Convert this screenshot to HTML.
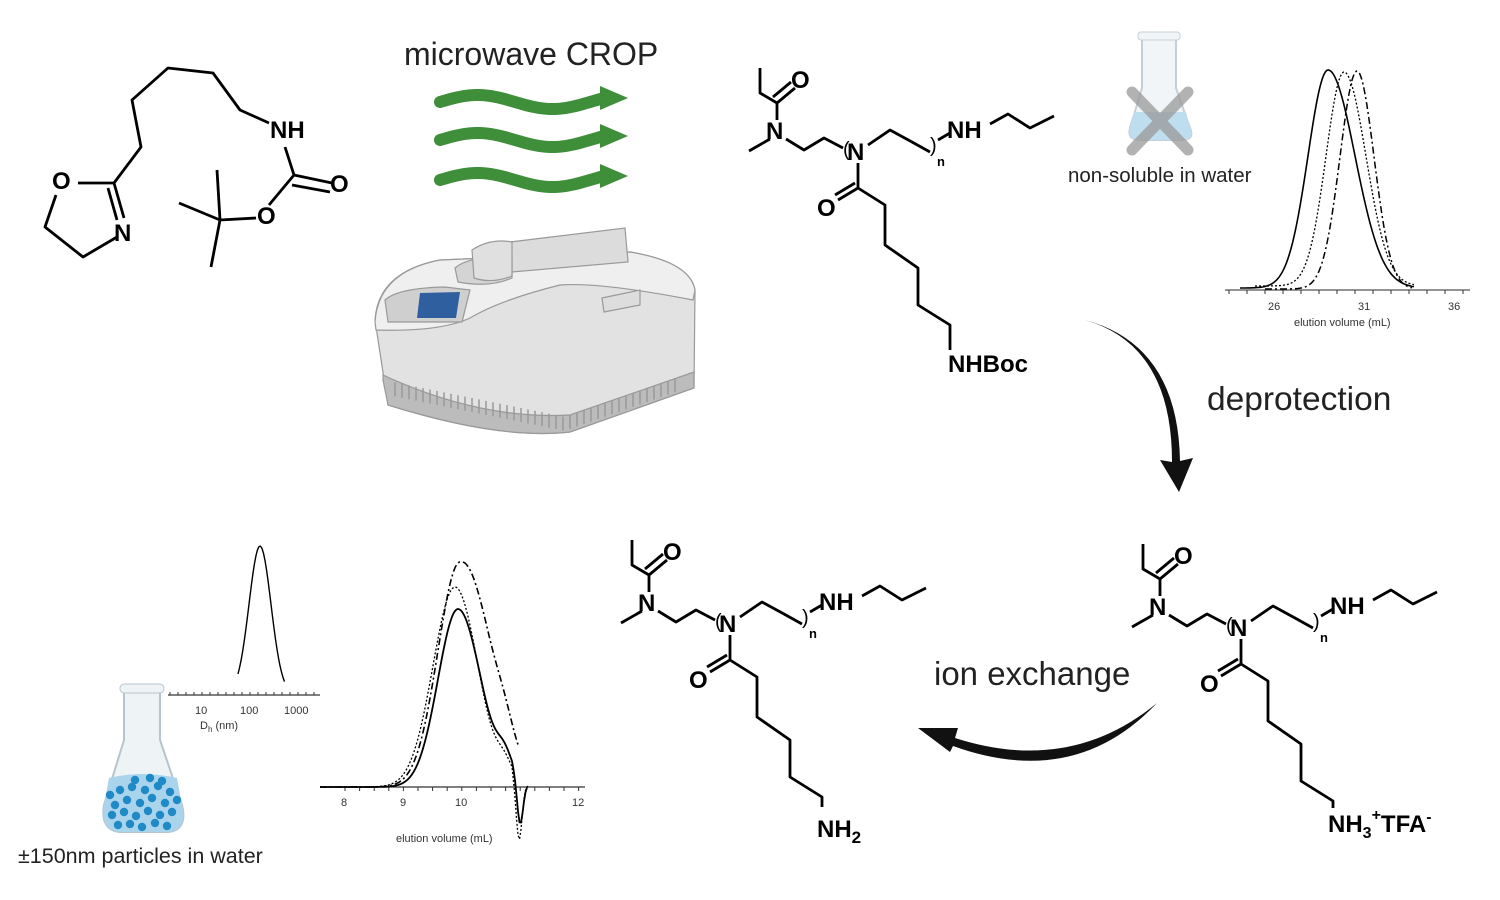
<!DOCTYPE html>
<html><head><meta charset="utf-8"><style>
html,body{margin:0;padding:0;background:#fff}
svg{display:block}
text{font-family:"Liberation Sans",sans-serif}
.b{font-weight:bold;font-size:24px;fill:#000}
.l{stroke:#000;stroke-width:2.8;fill:none;stroke-linejoin:round}
.t{font-size:11px;fill:#333}
</style></head><body>
<svg id="s" width="1500" height="900" viewBox="0 0 1500 900">
<!-- monomer -->
<g class="l">
<path d="M56,195 L45,227 L83,257 L117,237"/>
<path d="M78,183 L114,183 L124,218 M108,188 L117,220"/>
<path d="M114,183 L141,147 L132,100 L168,68 L213,73 L240,110 L269,123"/>
<path d="M285,147 L294,175 L269,205 M294,175 L332,183 M292,185 L330,192"/>
<path d="M256,218 L220,220 L217,170 M220,220 L211,267 M220,220 L179,203"/>
</g>
<text class="b" x="52" y="189" font-weight="normal">O</text>
<text class="b" x="114" y="241">N</text>
<text class="b" x="270" y="138">NH</text>
<text class="b" x="330" y="192">O</text>
<text class="b" x="257" y="224">O</text>

<text x="404" y="65" font-size="32" fill="#222">microwave CROP</text>
<g id="waves" stroke="#3e8e3a" stroke-width="12" fill="none" stroke-linecap="round"></g>
<g fill="#3e8e3a">
<polygon points="600,86 628,98 600,110"/>
<polygon points="600,124 628,136 600,148"/>
<polygon points="600,164 628,176 600,188"/>
</g>
<!-- microwave device -->
<g stroke="#999" stroke-width="1.2">
<path d="M375,320 Q378,272 440,260 L630,252 Q690,262 695,290 L694,388 L570,432 Q500,440 388,405 Z" fill="#e2e2e2"/>
<path d="M375,322 Q378,272 440,260 L630,252 Q690,262 695,290 L693,300 Q600,282 560,285 Q500,300 470,318 Q440,332 376,330 Z" fill="#efefef"/>
<path d="M383,380 L388,405 Q500,440 570,432 L694,388 L694,372 L570,415 Q480,420 383,375 Z" fill="#bcbcbc"/>
<path d="M510,242 L625,228 L628,262 L512,272 Z" fill="#dcdcdc"/>
<path d="M455,268 Q470,255 512,258 L512,278 Q490,288 458,282 Z" fill="#d4d4d4"/>
<path d="M472,250 Q490,238 512,242 L512,276 Q492,284 474,278 Z" fill="#e0e0e0"/>
<path d="M385,300 Q398,288 445,287 L470,290 L462,322 L388,322 Z" fill="#cfcfcf"/>
<path d="M420,293 L460,292 L456,318 L417,318 Z" fill="#2f5f9f" stroke="none"/>
<path d="M602,298 L640,290 L640,305 L604,312 Z" fill="#ddd"/>
</g>
<g stroke="#999" stroke-width="1.5" id="grill"></g>

<!-- top polymer -->
<g class="l">
<path d="M760,68 L760,93 L777,103 L795,88 M773,97 L791,82"/>
<path d="M777,103 L777,120 M770,139 L749,151 M786,139 L804,150 L824,138 L843,148"/>
<path d="M858,163 L858,188 L838,200 M855,183 L835,195"/>
<path d="M868,145 L890,130 L912,142 L930,152"/>
<path d="M938,140 L950,133 M990,124 L1008,114 L1030,128 L1054,116"/>
<path d="M858,188 L885,205 L885,245 L918,268 L918,305 L950,325 L950,350"/>
</g>
<text x="843" y="156" font-size="20">(</text><text x="930" y="152" font-size="20">)</text>
<text class="b" x="766" y="139">N</text><text class="b" x="791" y="88">O</text>
<text class="b" x="847" y="160">N</text><text class="b" x="947" y="138">NH</text>
<text x="937" y="166" font-size="13" font-weight="bold">n</text>
<text class="b" x="817" y="216">O</text><text class="b" x="948" y="372">NHBoc</text>

<!-- flask top -->
<g opacity="0.8">
<path d="M1142,38 L1142,88 L1130,128 Q1127,140 1140,140 L1182,140 Q1195,140 1190,128 L1176,88 L1176,38 Z" fill="#eef3f6" stroke="#b8c4cc" stroke-width="2"/>
<path d="M1134,112 L1186,112 L1190,128 Q1195,140 1182,140 L1140,140 Q1127,140 1130,128 Z" fill="#aed6ec"/>
<rect x="1138" y="32" width="42" height="8" rx="3" fill="#eef3f6" stroke="#b8c4cc"/>
</g>
<path d="M1132,92 L1188,150 M1188,92 L1132,150" stroke="#999" stroke-width="11" stroke-linecap="round" opacity="0.75"/>
<text x="1068" y="182" font-size="20.5" fill="#222">non-soluble in water</text>

<!-- top chromatogram -->
<line x1="1225" y1="290" x2="1470" y2="290" stroke="#555" stroke-width="1.2"/>
<g id="tt"></g>
<text class="t" x="1268" y="310">26</text><text class="t" x="1358" y="310">31</text><text class="t" x="1448" y="310">36</text>
<text class="t" x="1294" y="326">elution volume (mL)</text>
<path id="c1" fill="none" stroke="#000" stroke-width="1.6"/>
<path id="c2" fill="none" stroke="#000" stroke-width="1.3" stroke-dasharray="2,2"/>
<path id="c3" fill="none" stroke="#000" stroke-width="1.5" stroke-dasharray="7,3,2,3"/>

<!-- deprotection arrow -->
<path d="M1085,320 Q1172,345 1172,462 L1160,460 L1179,492 L1193,458 L1180,461 Q1178,345 1085,320 Z" fill="#111"/>
<text x="1207" y="410" font-size="33.5" fill="#222">deprotection</text>

<!-- bottom right polymer -->
<g transform="translate(383,476)">
<g class="l">
<path d="M760,68 L760,93 L777,103 L795,88 M773,97 L791,82"/>
<path d="M777,103 L777,120 M770,139 L749,151 M786,139 L804,150 L824,138 L843,148"/>
<path d="M858,163 L858,188 L838,200 M855,183 L835,195"/>
<path d="M868,145 L890,130 L912,142 L930,152"/>
<path d="M938,140 L950,133 M990,124 L1008,114 L1030,128 L1054,116"/>
<path d="M858,188 L885,205 L885,245 L918,268 L918,305 L950,325 L950,332"/>
</g>
<text x="843" y="156" font-size="20">(</text><text x="930" y="152" font-size="20">)</text>
<text class="b" x="766" y="139">N</text><text class="b" x="791" y="88">O</text>
<text class="b" x="847" y="160">N</text><text class="b" x="947" y="138">NH</text>
<text x="937" y="166" font-size="13" font-weight="bold">n</text>
<text class="b" x="817" y="216">O</text>
<text class="b" x="945" y="356">NH<tspan font-size="16" dy="6">3</tspan><tspan font-size="16" dy="-18">+</tspan><tspan dy="12">TFA</tspan><tspan font-size="16" dy="-10">-</tspan></text>
</g>

<!-- ion exchange arrow -->
<path d="M1157,703 Q1070,775 955,738 L958,728 L918,728 L950,752 L953,746 Q1075,790 1157,703 Z" fill="#111"/>
<text x="934" y="685" font-size="33" fill="#222">ion exchange</text>

<!-- bottom middle polymer -->
<g transform="translate(-128,472)">
<g class="l">
<path d="M760,68 L760,93 L777,103 L795,88 M773,97 L791,82"/>
<path d="M777,103 L777,120 M770,139 L749,151 M786,139 L804,150 L824,138 L843,148"/>
<path d="M858,163 L858,188 L838,200 M855,183 L835,195"/>
<path d="M868,145 L890,130 L912,142 L930,152"/>
<path d="M938,140 L950,133 M990,124 L1008,114 L1030,128 L1054,116"/>
<path d="M858,188 L885,205 L885,245 L918,268 L918,305 L950,325 L950,335"/>
</g>
<text x="843" y="156" font-size="20">(</text><text x="930" y="152" font-size="20">)</text>
<text class="b" x="766" y="139">N</text><text class="b" x="791" y="88">O</text>
<text class="b" x="847" y="160">N</text><text class="b" x="947" y="138">NH</text>
<text x="937" y="166" font-size="13" font-weight="bold">n</text>
<text class="b" x="817" y="216">O</text>
<text class="b" x="945" y="365">NH<tspan font-size="17" dy="6">2</tspan></text>
</g>

<!-- DLS -->
<line x1="168" y1="695" x2="320" y2="695" stroke="#333" stroke-width="1.2"/>
<g id="dt"></g>
<path id="dls" fill="none" stroke="#000" stroke-width="1.4"/>
<text class="t" x="195" y="714">10</text><text class="t" x="240" y="714">100</text><text class="t" x="284" y="714">1000</text>
<text class="t" x="200" y="729" font-size="12">D<tspan font-size="8" dy="3">h</tspan><tspan dy="-3"> (nm)</tspan></text>

<!-- bottom chromatogram -->
<line x1="320" y1="787" x2="585" y2="787" stroke="#333" stroke-width="1.2"/>
<g id="bt"></g>
<text class="t" x="341" y="806">8</text><text class="t" x="400" y="806">9</text><text class="t" x="455" y="806">10</text><text class="t" x="572" y="806">12</text>
<text class="t" x="396" y="842">elution volume (mL)</text>
<path id="e1" fill="none" stroke="#000" stroke-width="1.8"/>
<path id="e2" fill="none" stroke="#000" stroke-width="1.3" stroke-dasharray="2,2"/>
<path id="e3" fill="none" stroke="#000" stroke-width="1.6" stroke-dasharray="7,3,2,3"/>

<!-- bottom flask -->
<path d="M124,690 L124,740 L104,805 Q100,830 120,832 L168,832 Q188,830 182,805 L160,740 L160,690 Z" fill="#eef3f6" stroke="#b8c4cc" stroke-width="2"/>
<rect x="120" y="684" width="44" height="9" rx="4" fill="#eef3f6" stroke="#b8c4cc"/>
<path d="M109,778 Q142,770 177,778 L182,805 Q188,830 168,832 L120,832 Q100,830 104,805 Z" fill="#a9d4ec"/>
<g id="dots" fill="#1f8ac6"></g>
<text x="18" y="863" font-size="21.5" fill="#222">±150nm particles in water</text>
</svg>
<script>
function g(x,m,s){return Math.exp(-(x-m)*(x-m)/(2*s*s));}
function set(id,d){document.getElementById(id).setAttribute('d',d);}
var w=document.getElementById('waves'),ys=[102,140,180];
ys.forEach(function(y){var d='';for(var x=440;x<=605;x+=3){var yy=y+7*Math.sin((x-440)/165*2*Math.PI*1.1+Math.PI);d+=(x==440?'M':'L')+x+','+yy.toFixed(1);}var p=document.createElementNS('http://www.w3.org/2000/svg','path');p.setAttribute('d',d);w.appendChild(p);});
function curve(f,x0,x1){var d='';for(var x=x0;x<=x1;x+=1.5){d+=(x==x0?'M':'L')+x+','+f(x).toFixed(1);}return d;}
set('c1',curve(function(x){var s=x<1328?20:27;return 288-218*g(x,1328,s);},1240,1415));
set('c2',curve(function(x){var s=x<1344?18:22;return 286-214*g(x,1344,s);},1255,1415));
set('c3',curve(function(x){return 289-218*g(x,1357,17);},1265,1412));
function ticks(id,x0,x1,step,y,h){var e=document.getElementById(id),h2='';for(var x=x0;x<=x1;x+=step)h2+='<line x1="'+x+'" y1="'+y+'" x2="'+x+'" y2="'+(y+h)+'" stroke="#333"/>';e.innerHTML=h2;}
ticks('tt',1229,1470,18,290,4);
ticks('bt',345,580,14.6,787,4);
ticks('dt',170,320,8,692,3);
set('dls',curve(function(x){return 694-148*g(x,260,11);},238,285));
set('e1',curve(function(x){var v=x<458?g(x,458,20):g(x,458,23)+0.12*g(x,505,8);var d=x>512?-0.3*g(x,520,3):0;return 787-178*v-150*d;},320,528));
set('e2',curve(function(x){var v=x<455?g(x,455,22):g(x,455,23)+0.08*g(x,505,8);var d=x>512?-0.6*g(x,519,3):0;return 787-200*v-100*d;},320,530));
set('e3',curve(function(x){var v=x<460?g(x,460,22):g(x,462,30)+0.05*g(x,505,8);return 787-225*v;},320,518));
var gr='';for(var x=395;x<=680;x+=7){var t=(x-383)/(694-383);var y1=x<570?380+35*t*1.8:415-(x-570)*0.35;var y2=y1+14;gr+='<line x1="'+x+'" y1="'+Math.min(y1,425).toFixed(1)+'" x2="'+x+'" y2="'+Math.min(y2,432).toFixed(1)+'"/>';}
document.getElementById('grill').innerHTML=gr;
var dd='';var pts=[[110,795],[120,790],[132,787],[145,790],[158,786],[170,792],[115,805],[127,800],[140,803],[152,798],[165,803],[177,800],[112,815],[124,812],[136,816],[148,811],[160,815],[172,812],[118,825],[130,824],[142,827],[155,823],[167,826],[135,780],[150,778],[162,781]];
pts.forEach(function(p){dd+='<circle cx="'+p[0]+'" cy="'+p[1]+'" r="4.2"/>';});
document.getElementById('dots').innerHTML=dd;
</script>
</body></html>
